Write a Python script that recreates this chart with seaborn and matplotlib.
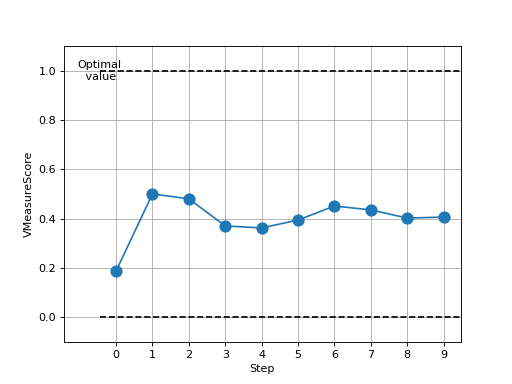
import pandas as pd
import numpy as np
import matplotlib
matplotlib.use("Agg")
import matplotlib.pyplot as plt
import seaborn as sns

# values
steps = [0, 1, 2, 3, 4, 5, 6, 7, 8, 9]
scores = [0.187, 0.500, 0.480, 0.370, 0.362, 0.394, 0.451, 0.435, 0.402, 0.406]
optimal = 1.0
baseline = 0.0

df = pd.DataFrame({"Step": steps, "VMeasureScore": scores})

fig, ax = plt.subplots(figsize=(6.4, 4.8), dpi=80)

sns.lineplot(data=df, x="Step", y="VMeasureScore", marker="o",
             markersize=11, markeredgewidth=0, color="#1f77b4", ax=ax)

ax.hlines([optimal, baseline], -0.45, 9.5, colors="black", linestyles="--")
ax.text(-0.47, optimal, "Optimal\n value", ha="center", va="center")

ax.set_xticks(steps)
ax.set_xlim(-1.43, 9.47)
ax.set_ylim(-0.1, 1.1)
ax.grid(True)

plt.savefig("out.png")
